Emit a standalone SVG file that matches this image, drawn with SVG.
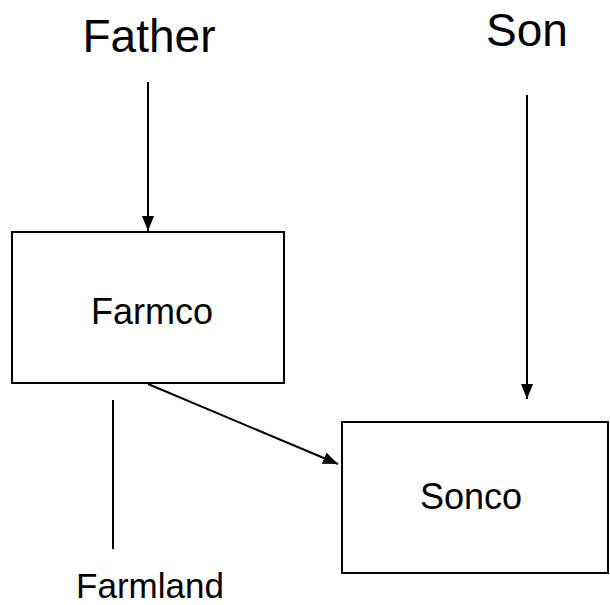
<svg xmlns="http://www.w3.org/2000/svg" width="610" height="605" viewBox="0 0 610 605">
<defs>
<style>
text{font-family:"Liberation Sans",Arial,sans-serif;fill:#000}
.big{font-size:46px}
.box{font-size:36px}
.mid{font-size:35px}
.node{fill:#fff;stroke:#000;stroke-width:2}
line{stroke:#000;stroke-width:2}
</style>
<marker id="ah" viewBox="0 0 15 12" refX="15" refY="6" markerWidth="15" markerHeight="12" markerUnits="userSpaceOnUse" orient="auto">
<path d="M0,0 L15,6 L0,12 Z" fill="#000"/>
</marker>
</defs>
<rect x="0" y="0" width="610" height="605" fill="#fff"/>
<g id="father"><text class="big" x="149" y="52" text-anchor="middle">Father</text></g>
<g id="son"><text class="big" x="527" y="46" text-anchor="middle">Son</text></g>
<g id="farmco"><rect class="node" x="12" y="232" width="272" height="151"/><text class="box" x="152" y="324" text-anchor="middle">Farmco</text></g>
<g id="sonco"><rect class="node" x="342" y="422" width="266" height="151"/><text class="box" x="471" y="509" text-anchor="middle">Sonco</text></g>
<g id="farmland"><text class="mid" x="150" y="598" text-anchor="middle">Farmland</text></g>
<g id="connectors">
<line x1="148" y1="82" x2="148" y2="231" marker-end="url(#ah)"/>
<line x1="527" y1="95" x2="527" y2="399" marker-end="url(#ah)"/>
<line x1="148" y1="384" x2="338" y2="464" marker-end="url(#ah)"/>
<line x1="113" y1="400" x2="113" y2="549"/>
</g>
</svg>
